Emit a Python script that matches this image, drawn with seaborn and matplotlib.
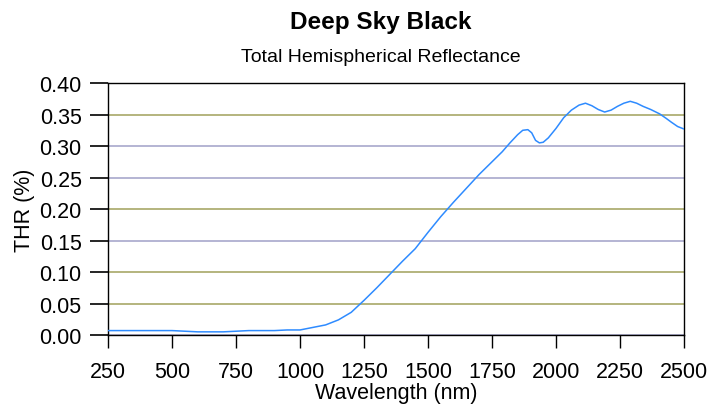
import numpy as np
import pandas as pd
import matplotlib
matplotlib.use("Agg")
import matplotlib.pyplot as plt
import seaborn as sns

# reflectance curve
wavelength = [250, 300, 400, 500, 550, 600, 700, 750, 800, 900, 950, 1000,
              1050, 1100, 1150, 1200, 1250, 1300, 1350, 1400, 1450, 1500,
              1550, 1600, 1650, 1700, 1750, 1790, 1820, 1850, 1870, 1890,
              1905, 1920, 1935, 1950, 1970, 2000, 2030, 2060, 2090, 2115,
              2140, 2165, 2190, 2215, 2240, 2265, 2290, 2315, 2340, 2370,
              2405, 2430, 2450, 2475, 2500]
thr = [0.007, 0.007, 0.007, 0.007, 0.006, 0.005, 0.005, 0.006, 0.007, 0.007,
       0.008, 0.008, 0.012, 0.016, 0.024, 0.036, 0.055, 0.075, 0.096, 0.117,
       0.137, 0.163, 0.188, 0.211, 0.233, 0.255, 0.275, 0.291, 0.305, 0.318,
       0.325, 0.326, 0.321, 0.309, 0.305, 0.306, 0.313, 0.328, 0.345, 0.357,
       0.365, 0.368, 0.364, 0.358, 0.354, 0.357, 0.363, 0.368, 0.371, 0.368,
       0.363, 0.358, 0.351, 0.344, 0.338, 0.331, 0.327]

x_ticks = [250, 500, 750, 1000, 1250, 1500, 1750, 2000, 2250, 2500]
y_ticks = [0.00, 0.05, 0.10, 0.15, 0.20, 0.25, 0.30, 0.35, 0.40]
olive = "#a8a868"
lav = "#a8a8cc"
grid_colors = [lav, olive, olive, lav, olive, lav, lav, olive, olive]

df = pd.DataFrame({"Wavelength": wavelength, "THR": thr})

sns.set_style("white")
plt.rcParams["font.family"] = ["Liberation Sans", "DejaVu Sans"]
plt.rcParams["text.color"] = "black"
plt.rcParams["axes.labelcolor"] = "black"
plt.rcParams["xtick.color"] = "black"
plt.rcParams["ytick.color"] = "black"

fig = plt.figure(figsize=(7.07, 4.10), dpi=100)
ax = fig.add_axes([0.1528, 0.1805, 0.8147, 0.6145])

for yv, c in zip(y_ticks, grid_colors):
    ax.axhline(yv, color=c, lw=1.2, zorder=1)

sns.lineplot(data=df, x="Wavelength", y="THR", ax=ax, color="#2e8bff",
             lw=1.1, zorder=3)

ax.set_xlim(250, 2500)
ax.set_ylim(0, 0.40)
ax.set_xticks(x_ticks)
ax.set_yticks(y_ticks)
ax.set_yticklabels([f"{v:.2f}" for v in y_ticks])
ax.tick_params(axis="x", direction="out", length=9, width=1, color="black",
               labelsize=15.5, pad=10, bottom=True)
ax.tick_params(axis="y", direction="out", length=13, width=1.2,
               labelsize=15.5, pad=6, left=True)
for t, c in zip(ax.yaxis.get_major_ticks(), grid_colors):
    t.tick1line.set_color(c)

for s in ax.spines.values():
    s.set_color("black")
    s.set_linewidth(1)

ax.set_xlabel("Wavelength (nm)", fontsize=15.5, labelpad=0)
ax.set_ylabel("THR (%)", fontsize=15.5, labelpad=3)

fig.text(0.539, 0.945, "Deep Sky Black", ha="center", va="center",
         fontsize=17.5, fontweight="bold")
fig.text(0.539, 0.860, "Total Hemispherical Reflectance", ha="center",
         va="center", fontsize=14)

fig.savefig("out.png", dpi=100)
